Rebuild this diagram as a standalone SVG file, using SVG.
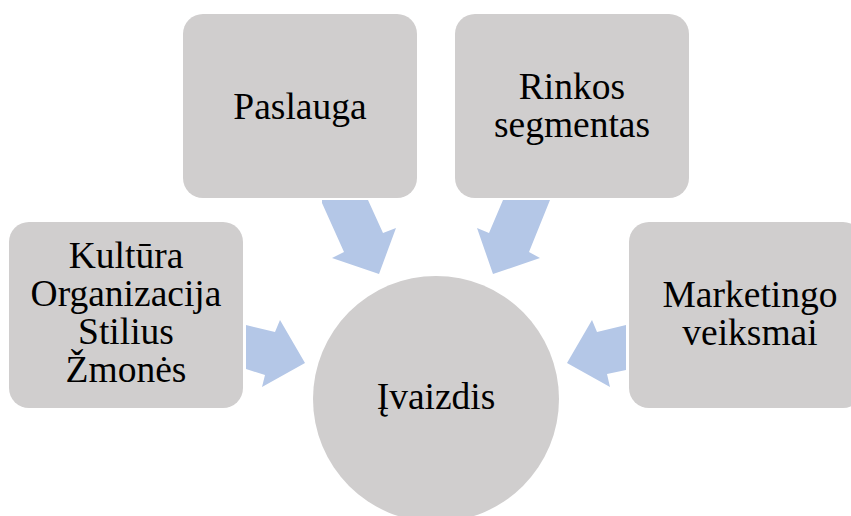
<svg xmlns="http://www.w3.org/2000/svg" width="851" height="516" viewBox="0 0 851 516">
  <style>
    .box { fill: #d0cece; }
    .arrow { fill: #b4c7e7; }
    .label { font-family: "Liberation Serif", "Times New Roman", serif; font-size: 37.5px; fill: #000; text-anchor: middle; }
  </style>
  <rect width="851" height="516" fill="#ffffff"/>

  <!-- block arrows pointing into the centre circle -->
  <g id="connectors">
    <polygon class="arrow" points="322,200 368,200 383,233 396,228 379,274 332,258 344,252 322,203"/>
    <polygon class="arrow" points="503,200 550,200 529,252 540,258 493,274 477,228 489,233"/>
    <polygon class="arrow" points="246,325 275,332 280,320 305,363 262,387 265,375 246,369"/>
    <polygon class="arrow" points="626,325 597,332 592,320 567,363 610,387 607,374 626,370"/>
  </g>

  <g id="node-paslauga">
    <rect class="box" x="183" y="14" width="234" height="184" rx="20"/>
    <text class="label" x="300" y="119">Paslauga</text>
  </g>

  <g id="node-rinkos">
    <rect class="box" x="455" y="14" width="234" height="184" rx="20"/>
    <text class="label" x="572" y="99">Rinkos</text>
    <text class="label" x="572" y="137">segmentas</text>
  </g>

  <g id="node-kultura">
    <rect class="box" x="9" y="222" width="234" height="186" rx="20"/>
    <text class="label" x="126" y="268">Kultūra</text>
    <text class="label" x="126" y="306">Organizacija</text>
    <text class="label" x="126" y="344">Stilius</text>
    <text class="label" x="126" y="382">Žmonės</text>
  </g>

  <g id="node-marketingo">
    <rect class="box" x="629" y="222" width="234" height="186" rx="20"/>
    <text class="label" x="750" y="307">Marketingo</text>
    <text class="label" x="750" y="345">veiksmai</text>
  </g>

  <g id="node-ivaizdis">
    <circle class="box" cx="436" cy="399" r="123"/>
    <text class="label" x="436" y="409">Įvaizdis</text>
  </g>
</svg>
